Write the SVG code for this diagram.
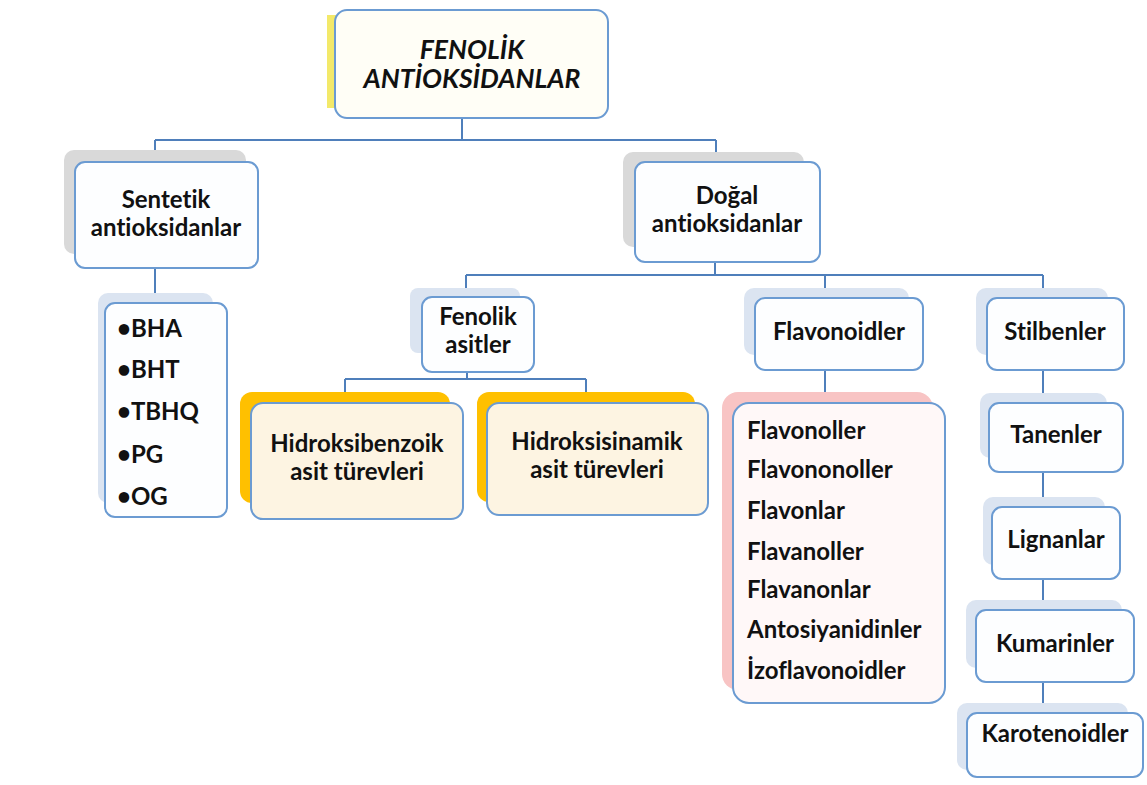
<svg xmlns="http://www.w3.org/2000/svg" width="1147" height="785" viewBox="0 0 1147 785">
<style>
.box{stroke:#6b9bd2;stroke-width:2}
.w{fill:#fdfeff}
.sg{fill:#d9d9d9}
.sb{fill:#dbe4f1}
.so{fill:#ffc000}
.sp{fill:#f8c4c4}
.t{font-family:Lato,"Open Sans","Liberation Sans",sans-serif;font-weight:bold;font-size:24px;fill:#111111;font-variant-ligatures:none}
.c{text-anchor:middle}
.ti{font-style:italic;font-size:26.5px}
.ln{fill:none;stroke:#4f7fbb;stroke-width:2}
</style>
<rect width="1147" height="785" fill="#ffffff"/>
<g id="connectors">
<path class="ln" d="M462 118V140M155 140H716M155 140V162M716 140V162"/>
<path class="ln" d="M155 268V293"/>
<path class="ln" d="M715 262V275M466 275H1043M466 275V297M825 275V298M1043 275V298"/>
<path class="ln" d="M467 372V379M345 379H586M345 379V403M586 379V403"/>
<path class="ln" d="M825 370V403"/>
<path class="ln" d="M1043 370V403M1043 472V507M1043 579V610M1043 682V713"/>
</g>
<g id="root">
<rect x="327" y="15" width="20" height="93" fill="#f3e96a"/>
<rect class="box" x="335" y="10" width="273" height="108" rx="12" fill="#fffef6"/>
<text class="t c ti" x="472" y="59">FENOLİK</text>
<text class="t c ti" x="472" y="88">ANTİOKSİDANLAR</text>
</g>
<g id="sentetik">
<rect class="sg" x="64" y="150" width="182" height="104" rx="10"/>
<rect class="box w" x="75" y="162" width="183" height="106" rx="10"/>
<text class="t c" x="166" y="208">Sentetik</text>
<text class="t c" x="166" y="236">antioksidanlar</text>
</g>
<g id="sentetik-list">
<rect class="sb" x="98" y="293" width="115" height="210" rx="10"/>
<rect class="box w" x="105" y="303" width="122" height="214" rx="10"/>
<text class="t" x="117" y="337">•BHA</text>
<text class="t" x="117" y="378">•BHT</text>
<text class="t" x="117" y="420">•TBHQ</text>
<text class="t" x="117" y="463">•PG</text>
<text class="t" x="117" y="505">•OG</text>
</g>
<g id="dogal">
<rect class="sg" x="623" y="152" width="181" height="95" rx="10"/>
<rect class="box w" x="635" y="162" width="185" height="100" rx="10"/>
<text class="t c" x="727" y="204">Doğal</text>
<text class="t c" x="727" y="232">antioksidanlar</text>
</g>
<g id="fenolik-asitler">
<rect class="sb" x="410" y="288" width="110" height="65" rx="8"/>
<rect class="box w" x="422" y="297" width="112" height="75" rx="10"/>
<text class="t c" x="478" y="325">Fenolik</text>
<text class="t c" x="478" y="353">asitler</text>
</g>
<g id="hidroksibenzoik">
<rect class="so" x="240" y="392" width="210" height="111" rx="12"/>
<rect class="box" x="251" y="403" width="212" height="116" rx="12" fill="#fdf4e2"/>
<text class="t c" x="357" y="452">Hidroksibenzoik</text>
<text class="t c" x="357" y="480">asit türevleri</text>
</g>
<g id="hidroksisinamik">
<rect class="so" x="477" y="392" width="218" height="110" rx="12"/>
<rect class="box" x="487" y="403" width="221" height="112" rx="12" fill="#fdf4e2"/>
<text class="t c" x="597" y="450">Hidroksisinamik</text>
<text class="t c" x="597" y="478">asit türevleri</text>
</g>
<g id="flavonoidler">
<rect class="sb" x="744" y="288" width="165" height="67" rx="10"/>
<rect class="box w" x="755" y="298" width="168" height="72" rx="10"/>
<text class="t c" x="839" y="340">Flavonoidler</text>
</g>
<g id="flavonoid-list">
<rect class="sp" x="722" y="392" width="211" height="298" rx="16"/>
<rect class="box" x="733" y="403" width="212" height="300" rx="16" fill="#fff8f8"/>
<text class="t" x="747" y="439">Flavonoller</text>
<text class="t" x="747" y="478">Flavononoller</text>
<text class="t" x="747" y="519">Flavonlar</text>
<text class="t" x="747" y="560">Flavanoller</text>
<text class="t" x="747" y="598">Flavanonlar</text>
<text class="t" x="747" y="638">Antosiyanidinler</text>
<text class="t" x="747" y="679">İzoflavonoidler</text>
</g>
<g id="stilbenler">
<rect class="sb" x="976" y="288" width="132" height="67" rx="10"/>
<rect class="box w" x="987" y="298" width="137" height="72" rx="10"/>
<text class="t c" x="1055" y="340">Stilbenler</text>
</g>
<g id="tanenler">
<rect class="sb" x="980" y="393" width="127" height="65" rx="10"/>
<rect class="box w" x="989" y="403" width="134" height="69" rx="10"/>
<text class="t c" x="1056" y="443">Tanenler</text>
</g>
<g id="lignanlar">
<rect class="sb" x="983" y="497" width="122" height="68" rx="10"/>
<rect class="box w" x="992" y="507" width="128" height="72" rx="10"/>
<text class="t c" x="1056" y="548">Lignanlar</text>
</g>
<g id="kumarinler">
<rect class="sb" x="966" y="600" width="156" height="68" rx="10"/>
<rect class="box w" x="976" y="610" width="158" height="72" rx="10"/>
<text class="t c" x="1055" y="652">Kumarinler</text>
</g>
<g id="karotenoidler">
<rect class="sb" x="957" y="703" width="171" height="67" rx="10"/>
<rect class="box w" x="967" y="713" width="176" height="64" rx="10"/>
<text class="t c" x="1055" y="742">Karotenoidler</text>
</g>
</svg>
